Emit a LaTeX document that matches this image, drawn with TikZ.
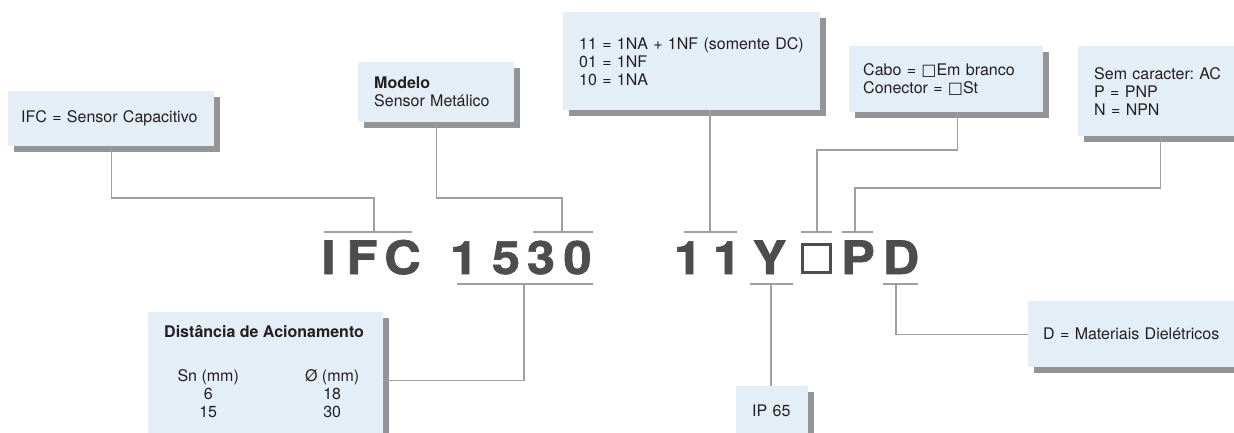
\documentclass[tikz,border=0pt]{standalone}
\usepackage{fontspec}
\setmainfont{TeX Gyre Heros}
\newfontfamily\boxglyph{DejaVu Sans}
\newfontfamily\codefont{TeX Gyre Heros}[FakeStretch=1.1, FakeBold=1.4]
\usepackage{array}
\usepackage{tikz}
\usetikzlibrary{shadows}
\frenchspacing

\definecolor{boxblue}{HTML}{E4EEF7}
\definecolor{shadowgray}{HTML}{939598}
\definecolor{linegray}{HTML}{A0A0A0}
\definecolor{codegray}{HTML}{4D4D4F}
\definecolor{textdark}{HTML}{231F20}

\begin{document}
\begin{tikzpicture}[x=1pt, y=-1pt,
    infobox/.style={fill=boxblue, anchor=north west, align=left, inner xsep=16pt, inner ysep=0pt,
      text=textdark, font=\fontsize{16}{18}\selectfont,
      general shadow={fill=shadowgray, shadow xshift=5.5pt, shadow yshift=-5.5pt}},
    code/.style={anchor=base, inner sep=0pt, text=codegray, font=\fontsize{46}{46}\selectfont\codefont\bfseries},
    link/.style={draw=linegray, line width=1.3pt}]
  \useasboundingbox (0,0) rectangle (1234,432);

  % info boxes
  \node[infobox, inner xsep=13pt, text width=180pt, minimum height=55pt] (ifc) at (8,91) {IFC = Sensor Capacitivo};
  \node[infobox, text width=124pt, minimum height=60pt] (modelo) at (358,62) {\textbf{Modelo}\\Sensor Metálico};
  \node[infobox, text width=225pt, minimum height=98pt] (contatos) at (563,12) {11 = 1NA + 1NF (somente DC)\\01 = 1NF\\10 = 1NA};
  \node[infobox, inner xsep=14pt, text width=166pt, minimum height=66pt] (cabo) at (849,46) {Cabo = {\boxglyph □}Em branco\\Conector = {\boxglyph □}St};
  \node[infobox, text width=132pt, minimum height=90pt] (saida) at (1078,46) {Sem caracter: AC\\P = PNP\\N = NPN};
  \node[infobox, inner xsep=15pt, text width=184pt, minimum height=66pt] (dieletrico) at (1028,301) {D = Materiais Dielétricos};
  \node[infobox, text width=40pt, minimum height=50pt] (ip) at (736,386) {IP 65};
  \node[infobox, minimum width=235pt, minimum height=136pt] (dist) at (148,312) {};
  \node[anchor=base west, inner sep=0pt, text=textdark, font=\fontsize{16}{18}\selectfont] (distTab) at (164,337)
    {\begin{tabular}[t]{@{}w{c}{88pt}@{\hspace{40pt}}w{c}{80pt}@{}}
      \multicolumn{2}{@{}l}{\textbf{Distância de Acionamento}}\\[26pt]
      Sn (mm) & Ø (mm)\\
      6 & 18\\
      15 & 30
    \end{tabular}};

  % code letters
  \foreach \ch/\xc/\nm in {I/328.5/cI, F/362/cF, C/402.5/cC, 1/464/cOne, 5/506/cFive, 3/541/cThree, 0/577.5/cZero,
      1/688/cOneA, 1/727/cOneB, Y/769.5/cY, P/858/cP, D/901/cD}
    \node[code] (\nm) at (\xc,274) {\ch};
  \node[draw=codegray, line width=3pt, minimum size=28pt, inner sep=0pt] (cSq) at (816.5,258.5) {};

  % brackets over and under the code
  \foreach \nm/\xa/\xj/\xb/\yb in {tIFC/324/374/412/232, tNum/533/562/593/232, tCont/684/710/737/232,
      tSq/801/817/832/232, tP/842/855/873/232, bNum/457/524/593/284, bY/750/771/793/284, bD/883/896/918/284} {
    \coordinate (\nm) at (\xj,\yb);
    \coordinate (\nm-l) at (\xa,\yb);
    \coordinate (\nm-r) at (\xb,\yb);
    \draw[link] (\nm-l) -- (\nm-r);
  }

  \coordinate (rowA) at (0,198);
  \coordinate (rowB) at (0,150);
  \coordinate (rowC) at (0,188);
  \coordinate (caboOut) at ([xshift=11pt]cabo.south);

  \draw[link] (ifc.south) -- (ifc.south |- rowA) -| (tIFC);
  \draw[link] (modelo.south) -- (modelo.south |- rowA) -| (tNum);
  \draw[link] (contatos.south -| tCont) -- (tCont);
  \draw[link] (caboOut) -- (caboOut |- rowB) -| (tSq);
  \draw[link] (saida.south) -- (saida.south |- rowC) -| (tP);
  \draw[link] (bNum) |- (dist.east);
  \draw[link] (bY) -- (bY |- ip.north);
  \draw[link] (bD) |- (dieletrico.west);
\end{tikzpicture}
\end{document}
